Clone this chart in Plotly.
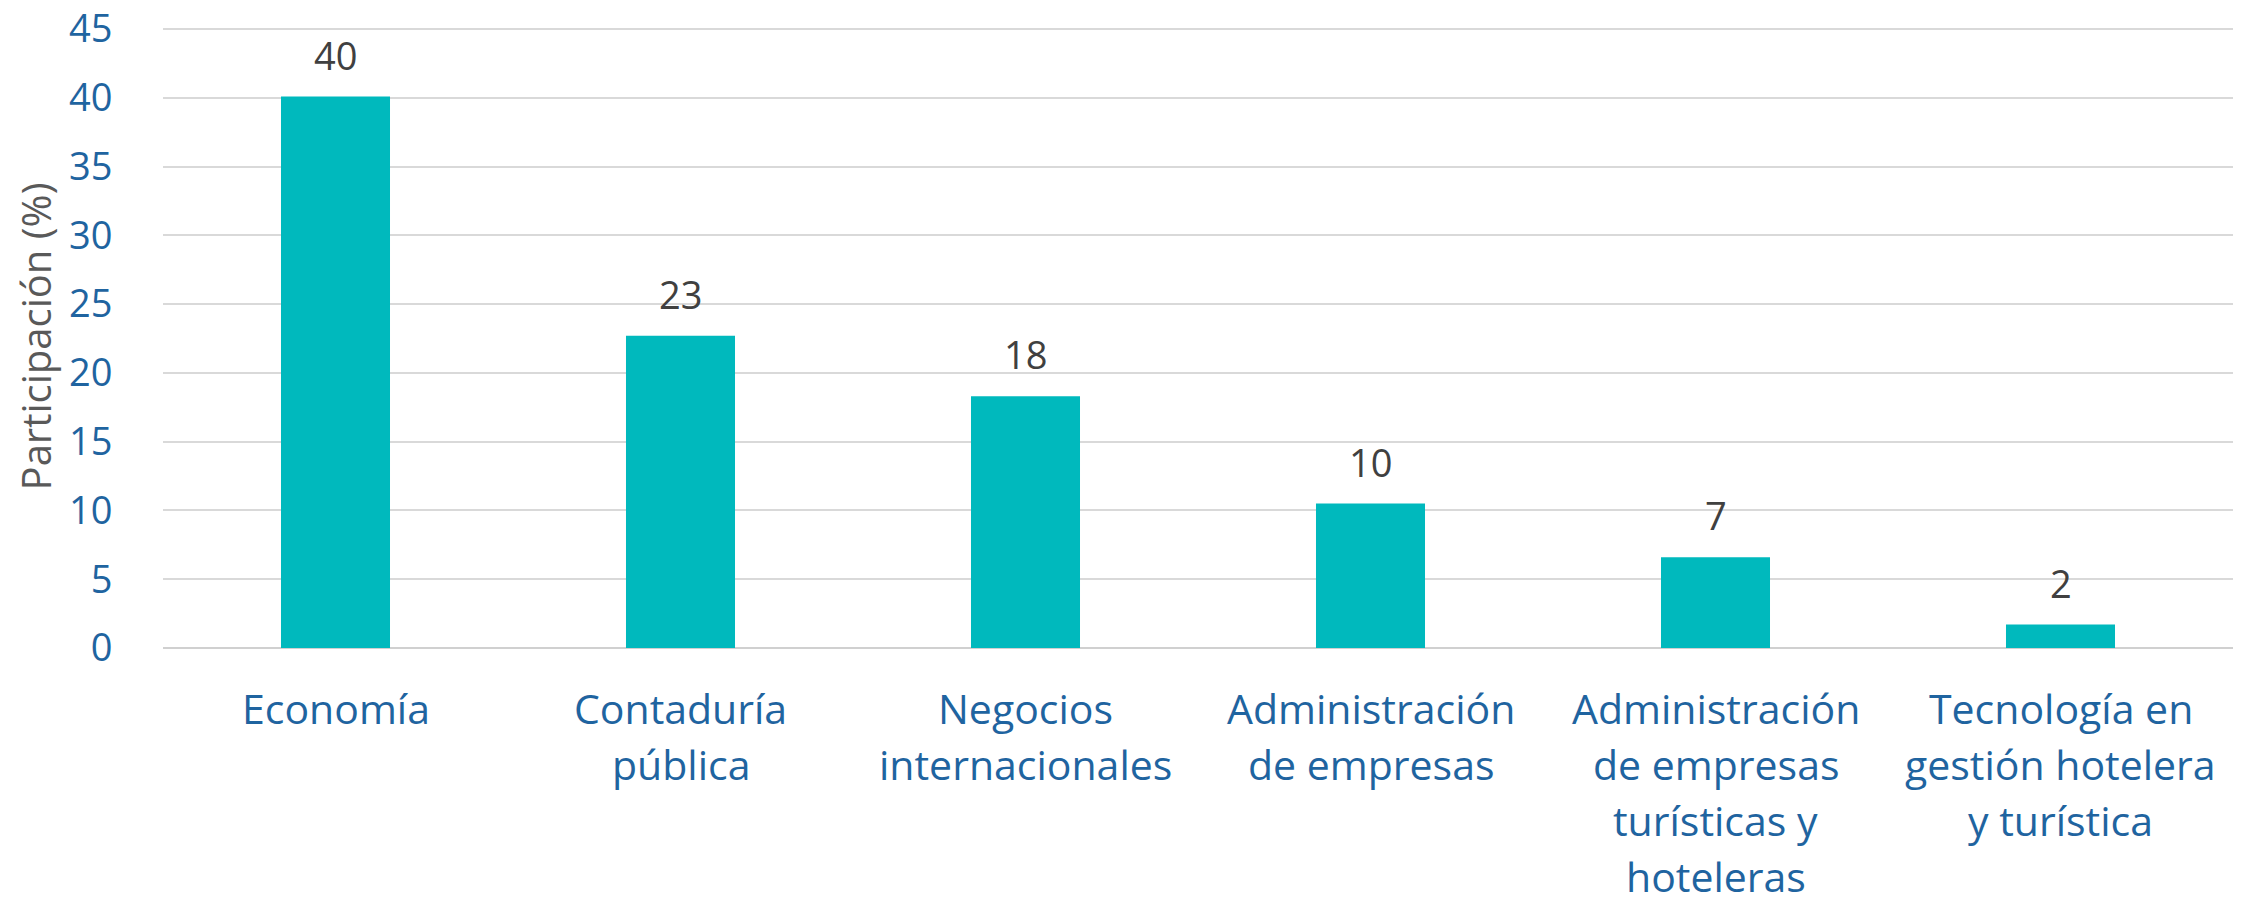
import plotly.graph_objects as go

# Participación por programa (%)
programas = [
    "Economía",
    "Contaduría<br>pública",
    "Negocios<br>internacionales",
    "Administración<br>de empresas",
    "Administración<br>de empresas<br>turísticas y<br>hoteleras",
    "Tecnología en<br>gestión hotelera<br>y turística",
]
participacion = [40.1, 22.7, 18.3, 10.5, 6.6, 1.7]
y_ticks = [0, 5, 10, 15, 20, 25, 30, 35, 40, 45]

FONT = "Open Sans, Lato, DejaVu Sans, sans-serif"
BAR = "#00B9BD"
TICK_BLUE = "#1F64A0"
LABEL_GRAY = "#404040"
LINE_STEP = 56  # px between lines of a category label

fig = go.Figure()
fig.add_trace(go.Bar(
    x=programas,
    y=participacion,
    marker=dict(color=BAR, line=dict(width=0)),
    hovertemplate="%{x}: %{y:.0f}<extra></extra>",
))

# value labels above each bar, rounded like the source table
for cat, val in zip(programas, participacion):
    fig.add_annotation(
        x=cat, y=val, text=f"{val:.0f}", showarrow=False,
        yanchor="bottom", yshift=14,
        font=dict(family=FONT, size=38, color=LABEL_GRAY),
    )

# category labels, one line at a time for wider line spacing
for cat in programas:
    for i, line in enumerate(cat.split("<br>")):
        fig.add_annotation(
            x=cat, xref="x", y=0, yref="paper", text=line, showarrow=False,
            yanchor="middle", yshift=-60 - i * LINE_STEP,
            font=dict(family=FONT, size=41, color=TICK_BLUE),
        )

fig.update_layout(
    width=2241, height=905,
    margin=dict(l=163, r=8, t=25, b=257),
    paper_bgcolor="white",
    plot_bgcolor="rgba(0,0,0,0)",
    bargap=0.684,
    showlegend=False,
    font=dict(family=FONT),
)
fig.update_xaxes(
    showticklabels=False, automargin=False,
    showgrid=False, showline=False, zeroline=False,
)
fig.update_yaxes(
    range=[0, 45.3],
    tickvals=y_ticks,
    automargin=False,
    tickfont=dict(family=FONT, size=38, color=TICK_BLUE),
    ticklabeloverflow="allow",
    ticks="outside", ticklen=42, tickcolor="rgba(0,0,0,0)",
    showgrid=True, gridcolor="#D9D9D9", gridwidth=2,
    zeroline=True, zerolinecolor="#D0D0D0", zerolinewidth=2,
    title=dict(text="Participación (%)", standoff=4,
               font=dict(family=FONT, size=40, color="#595959")),
)

fig.write_html("out.html")
